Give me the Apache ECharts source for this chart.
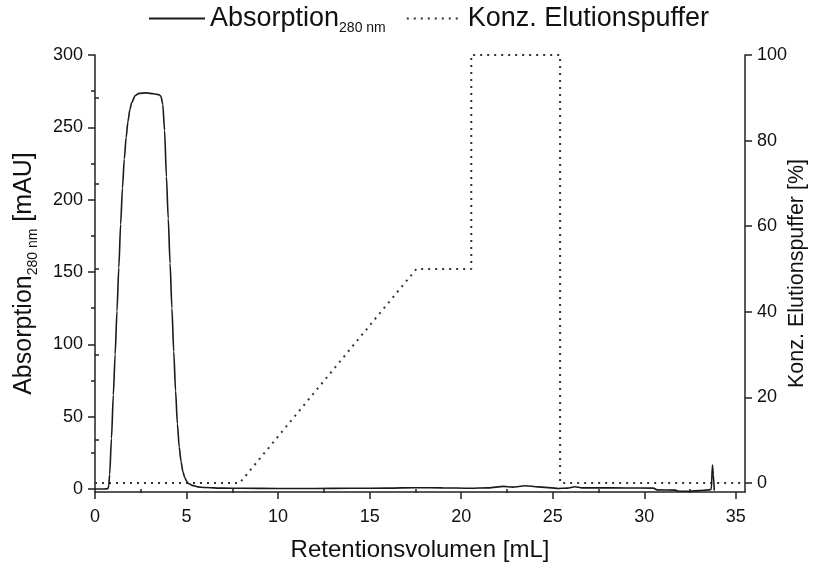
<!DOCTYPE html>
<html>
<head>
<meta charset="utf-8">
<script src="https://cdn.jsdelivr.net/npm/echarts@6/dist/echarts.min.js"></script>
<style>html,body{margin:0;padding:0;background:#fff}#c{width:813px;height:568px}</style>
</head>
<body>
<div id="c"></div>
<script>
// Absorption at 280 nm (mAU) vs retention volume (mL)
var absVolume = [0, 0.5, 0.7, 0.75, 0.8, 0.9, 1.0, 1.1, 1.2, 1.3, 1.4, 1.5, 1.6, 1.7, 1.8, 1.9, 2.0, 2.2, 2.4, 2.8, 3.2, 3.5, 3.6, 3.7, 3.8, 3.9, 4.0, 4.1, 4.2, 4.3, 4.4, 4.5, 4.6, 4.7, 4.8, 4.9, 5.0, 5.1, 5.3, 5.6, 6.0, 7, 8, 10, 12, 14, 16, 17.5, 19, 20.5, 21.5, 22.3, 22.8, 23.5, 24.2, 25.3, 25.8, 26.2, 26.6, 27.5, 29, 30.5, 30.7, 31.7, 31.9, 32.5, 33.0, 33.5, 33.66, 33.72, 33.77, 33.82];
var absValue  = [0, 0, 0.2, 2, 10, 35, 65, 93, 123, 153, 183, 208, 228, 243, 254, 262, 267, 272, 273.5, 273.8, 273.2, 272.5, 271.5, 266, 248, 216, 187, 156, 125, 95, 68, 45, 29, 19, 12, 8, 5.5, 3.8, 2.5, 1.5, 1, 0.6, 0.5, 0.4, 0.4, 0.5, 0.6, 0.9, 0.8, 0.5, 0.8, 1.8, 1.3, 2.2, 1.5, 0.4, 0.6, 1.6, 0.8, 0.8, 0.7, 0.6, -0.6, -0.8, -1.6, -1.5, -1.1, -0.6, -0.3, 16.5, 10, -1];
// Elution buffer concentration (%) vs retention volume (mL)
var konzVolume = [0, 7.9, 17.55, 20.55, 20.55, 25.4, 25.4, 35.5];
var konzValue  = [0, 0, 50, 50, 100, 100, 0, 0];
// Tick labels
var xMajorTicks = [0, 5, 10, 15, 20, 25, 30, 35];
var xMinorTicks = [2.5, 7.5, 12.5, 17.5, 22.5, 27.5, 32.5];
var yLeftMajor = [0, 50, 100, 150, 200, 250, 300];
var yLeftMinor = [25, 75, 125, 175, 225, 275];
var yRightMajor = [0, 20, 40, 60, 80, 100];
var yRightMinor = [10, 30, 50, 70, 90];

function pairs(xs, ys) { return xs.map(function (x, i) { return [x, ys[i]]; }); }

var FONT = 'Liberation Sans, Arial, sans-serif';
var INK = '#111';
var legendRich = {
  a: { fontSize: 27, fontFamily: FONT, color: INK, lineHeight: 34, verticalAlign: 'middle' },
  s: { fontSize: 14, fontFamily: FONT, color: INK, lineHeight: 13, verticalAlign: 'bottom' }
};
var titleRich = {
  a: { fontSize: 25, fontFamily: FONT, color: INK, lineHeight: 32, verticalAlign: 'middle' },
  s: { fontSize: 14, fontFamily: FONT, color: INK, lineHeight: 13, verticalAlign: 'bottom' }
};
var axisLineStyle = { color: '#222', width: 1.5 };

var chart = echarts.init(document.getElementById('c'), null, { renderer: 'canvas' });
chart.setOption({
  animation: false,
  backgroundColor: '#fff',
  grid: { left: 95, right: 68, top: 55, bottom: 76, containLabel: false, outerBoundsMode: 'none' },
  legend: {
    left: 143, top: 0,
    itemWidth: 56, itemHeight: 14, itemGap: 20,
    itemStyle: { opacity: 0 },
    textStyle: { fontSize: 27, fontFamily: FONT, color: INK, rich: legendRich },
    formatter: function (name) {
      return name === 'Absorption' ? '{a|Absorption}{s|280 nm}' : '{a|' + name + '}';
    },
    data: ['Absorption', 'Konz. Elutionspuffer']
  },
  xAxis: [{
    type: 'value', min: 0, max: 35.5,
    name: 'Retentionsvolumen [mL]', nameLocation: 'middle', nameGap: 46, nameMoveOverlap: false,
    nameTextStyle: { fontSize: 24, fontFamily: FONT, color: INK },
    axisLine: { show: true, onZero: false, lineStyle: axisLineStyle },
    axisTick: { show: true, inside: false, length: 7, customValues: xMajorTicks, lineStyle: axisLineStyle },
    axisLabel: { customValues: xMajorTicks, fontSize: 18, fontFamily: FONT, color: INK, margin: 16 },
    splitLine: { show: false }
  }, {
    type: 'value', min: 0, max: 35.5, position: 'bottom',
    axisLine: { show: false },
    axisTick: { show: true, inside: false, length: 4, customValues: xMinorTicks, lineStyle: axisLineStyle },
    axisLabel: { show: false },
    splitLine: { show: false }
  }],
  yAxis: [{
    type: 'value', min: -2.07, max: 300, position: 'left',
    name: '{a|Absorption}{s|280 nm}{a| [mAU]}', nameLocation: 'middle', nameGap: 55, nameRotate: 90, nameMoveOverlap: false,
    nameTextStyle: { fontSize: 25, fontFamily: FONT, color: INK, rich: titleRich },
    axisLine: { show: true, onZero: false, lineStyle: axisLineStyle },
    axisTick: { show: true, inside: false, length: 7, customValues: yLeftMajor, lineStyle: axisLineStyle },
    axisLabel: { customValues: yLeftMajor, fontSize: 18, fontFamily: FONT, color: INK, margin: 12 },
    splitLine: { show: false }
  }, {
    type: 'value', min: -2.1, max: 100, position: 'right',
    name: 'Konz. Elutionspuffer [%]', nameLocation: 'middle', nameGap: 41, nameRotate: 90, nameMoveOverlap: false,
    nameTextStyle: { fontSize: 21.5, fontFamily: FONT, color: INK },
    axisLine: { show: true, onZero: false, lineStyle: axisLineStyle },
    axisTick: { show: true, inside: false, length: 7, customValues: yRightMajor, lineStyle: axisLineStyle },
    axisLabel: { customValues: yRightMajor, fontSize: 18, fontFamily: FONT, color: INK, margin: 12 },
    splitLine: { show: false }
  }, {
    type: 'value', min: -2.07, max: 300, position: 'left',
    axisLine: { show: false },
    axisTick: { show: true, inside: false, length: 4, customValues: yLeftMinor, lineStyle: axisLineStyle },
    axisLabel: { show: false }, splitLine: { show: false }
  }, {
    type: 'value', min: -2.1, max: 100, position: 'right',
    axisLine: { show: false },
    axisTick: { show: true, inside: false, length: 4, customValues: yRightMinor, lineStyle: axisLineStyle },
    axisLabel: { show: false }, splitLine: { show: false }
  }],
  series: [{
    name: 'Absorption', type: 'line', xAxisIndex: 0, yAxisIndex: 0,
    data: pairs(absVolume, absValue),
    showSymbol: false, symbol: 'none', smooth: 0.25, smoothMonotone: 'x',
    lineStyle: { color: '#1a1a1a', width: 1.6 },
    itemStyle: { color: '#1a1a1a' },
    z: 3
  }, {
    name: 'Konz. Elutionspuffer', type: 'line', xAxisIndex: 0, yAxisIndex: 1,
    data: pairs(konzVolume, konzValue),
    showSymbol: false, symbol: 'none', smooth: false,
    lineStyle: { color: '#333', width: 2, type: [2, 5] },
    itemStyle: { color: '#333' },
    z: 2
  }]
});
</script>
</body>
</html>
